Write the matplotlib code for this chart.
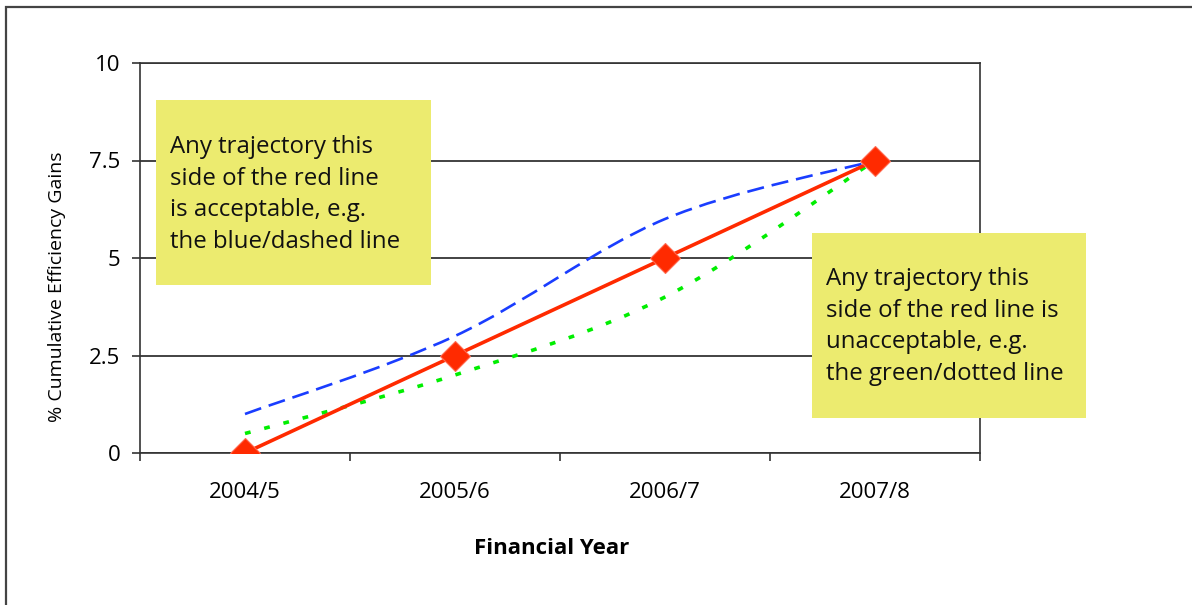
import numpy as np
import matplotlib
matplotlib.use("Agg")
from matplotlib import pyplot as plt
from matplotlib.path import Path
from matplotlib.patches import PathPatch, Rectangle

plt.rcParams["font.family"] = ["Open Sans", "DejaVu Sans"]

years = ["2004/5", "2005/6", "2006/7", "2007/8"]
target = [0, 2.5, 5, 7.5]
acceptable = [1.0, 3.0, 6.0, 7.5]
unacceptable = [0.5, 2.0, 4.0, 7.5]
yticks = [0, 2.5, 5, 7.5, 10]
ytick_labels = ["0", "2.5", "5", "7.5", "10"]

note_left = ["Any trajectory this", "side of the red line",
             "is acceptable, e.g.", "the blue/dashed line"]
note_right = ["Any trajectory this", "side of the red line is",
              "unacceptable, e.g.", "the green/dotted line"]

W, H = 1192, 605


def smooth_path(xs, ys):
    """Catmull-Rom style bezier through the points (like a smoothed line)."""
    pts = np.column_stack([xs, ys]).astype(float)
    ext = np.vstack([pts[0], pts, pts[-1]])
    verts = [pts[0]]
    codes = [Path.MOVETO]
    for i in range(len(pts) - 1):
        p0, p1, p2, p3 = ext[i], ext[i + 1], ext[i + 2], ext[i + 3]
        c1 = p1 + (p2 - p0) / 6
        c2 = p2 - (p3 - p1) / 6
        verts += [c1, c2, p2]
        codes += [Path.CURVE4] * 3
    return Path(verts, codes)


def fx(px):
    return px / W


def fy(py):
    return 1 - py / H


fig = plt.figure(figsize=(W / 100, H / 100), dpi=100)
ax = fig.add_axes([fx(140), fy(453), fx(980) - fx(140), fy(63) - fy(453)])

x = np.arange(len(years))

ax.add_patch(PathPatch(smooth_path(x, acceptable), fill=False, edgecolor="#1a3dff",
                       lw=1.9, linestyle=(0, (6.5, 3)), zorder=3))
ax.add_patch(PathPatch(smooth_path(x, unacceptable), fill=False, edgecolor="#00ee00",
                       lw=2.6, linestyle=(0, (1.6, 3.9)), zorder=3))
ax.plot(x, target, color="#ff2a00", lw=2.6, marker="D", markersize=15,
        markerfacecolor="#ff2a00", markeredgecolor="#ff6a50", markeredgewidth=0.8,
        zorder=4)

ax.set_xlim(-0.5, len(years) - 0.5)
ax.set_ylim(0, 10)

# category labels at the centres, tick marks on the boundaries
ax.set_xticks(np.arange(len(years) + 1) - 0.5)
ax.set_xticklabels([])
ax.set_xticks(x, minor=True)
ax.set_xticklabels(years, minor=True)
ax.tick_params(axis="x", which="major", direction="out", length=6, width=1.2, color="#333333")
ax.tick_params(axis="x", which="minor", length=0, pad=21, labelsize=16)

ax.set_yticks(yticks)
ax.set_yticklabels(ytick_labels)
ax.tick_params(axis="y", direction="out", length=5.5, width=1.2, color="#333333",
               pad=8.5, labelsize=16)

ax.grid(axis="y", color="#222222", lw=1.2)
ax.set_axisbelow(True)
for s in ax.spines.values():
    s.set_color("#333333")
    s.set_linewidth(1.2)

fig.text(fx(552), fy(548), "Financial Year", ha="center", va="center",
         fontsize=16, fontweight="bold")
fig.text(fx(57), fy(287), "% Cumulative Efficiency Gains", ha="center", va="center",
         rotation=90, fontsize=14)

# explanatory notes
for (x0, y0, x1, y1), lines, tx, base in [
    ((156, 100, 431, 285), note_left, 170, 153),
    ((812, 233, 1086, 418), note_right, 826, 285),
]:
    fig.add_artist(Rectangle((fx(x0), fy(y1)), fx(x1) - fx(x0), fy(y0) - fy(y1),
                             transform=fig.transFigure, facecolor="#eceb6f",
                             edgecolor="none", zorder=5))
    for i, line in enumerate(lines):
        fig.text(fx(tx), fy(base + i * 31.7), line, ha="left", va="baseline",
                 fontsize=17.3, color="#111111", zorder=6)

# outer frame (runs off the right and bottom edges)
fig.add_artist(Rectangle((fx(6), fy(H + 20)), fx(W + 20) - fx(6), fy(7) - fy(H + 20),
                         transform=fig.transFigure, fill=False,
                         edgecolor="#444444", lw=1.6, zorder=7))

fig.savefig("out.png", dpi=100)
